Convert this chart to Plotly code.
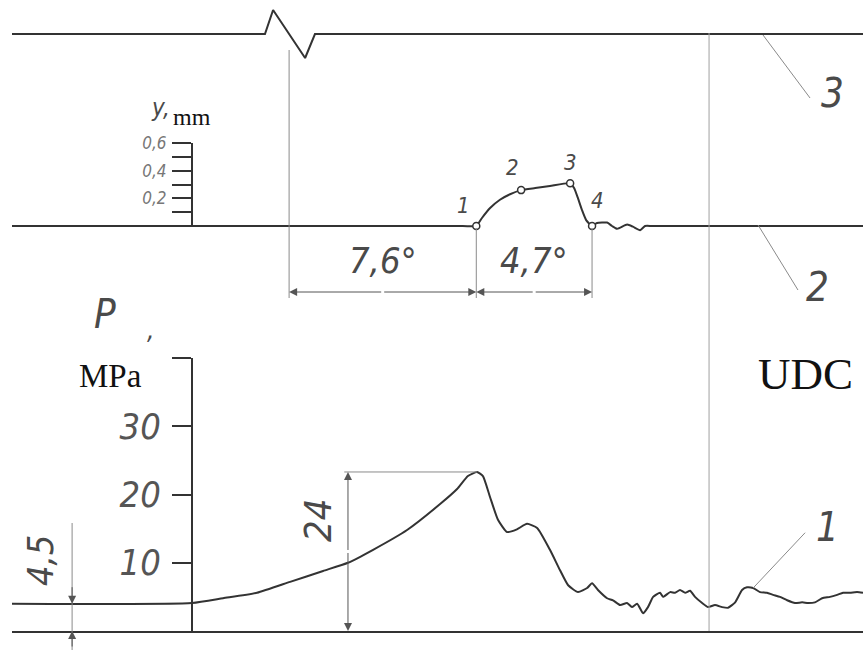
import plotly.graph_objects as go

# ---------------- data ----------------
# crank angle in degrees relative to UDC (0)
pressure_angle = [-28.30, -20.99, -19.73, -18.35, -17.01, -15.67, -14.66, -13.64, -12.26,
                  -10.92, -10.23, -9.79, -9.42, -9.18, -8.89, -8.57, -8.20, -7.80, -7.39,
                  -6.98, -6.46, -6.05, -5.72, -5.32, -4.95, -4.75, -4.51, -4.14, -3.90,
                  -3.61, -3.33, -3.13, -2.92, -2.68, -2.48, -2.27, -1.99, -1.87, -1.58,
                  -1.38, -1.18, -0.97, -0.77, -0.57, -0.28, -0.04, 0.24, 0.53, 0.77,
                  1.06, 1.34, 1.54, 1.79, 2.07, 2.35, 2.60, 2.88, 3.17, 3.49, 3.78,
                  4.02, 4.30, 4.59, 4.91, 5.20, 5.44, 5.72, 6.01, 6.25]
pressure_mpa = [4.0, 4.1, 4.8, 5.6, 7.2, 8.8, 10.0, 11.9, 14.8,
                18.6, 20.8, 22.7, 23.3, 22.7, 19.6, 16.3, 14.5, 14.9, 15.7,
                15.1, 11.9, 8.9, 6.7, 5.7, 6.3, 7.0, 6.0, 4.8, 4.5,
                3.8, 4.1, 3.5, 4.0, 2.6, 3.5, 5.0, 5.6, 5.0, 5.7,
                5.6, 6.0, 5.6, 5.9, 5.0, 4.1, 3.5, 3.8, 3.5, 3.4,
                4.2, 6.0, 6.4, 6.3, 5.7, 5.6, 5.3, 5.0, 4.5, 4.1, 4.2,
                4.1, 4.2, 4.8, 5.0, 5.3, 5.6, 5.6, 5.7, 5.6]

lift_angle = [-28.30, -10.0, -9.45, -9.22, -8.89, -8.49, -8.08, -7.63, -7.06, -6.46, -5.64,
              -5.48, -5.32, -5.16, -4.99, -4.75, -4.55, -4.14, -3.94, -3.73, -3.33,
              -3.09, -2.80, -2.60, -2.30, 6.25]
lift_mm = [0.0, 0.0, 0.0, 0.058, 0.13, 0.19, 0.23, 0.26, 0.275, 0.29, 0.31,
           0.275, 0.20, 0.116, 0.043, 0.0, 0.022, 0.025, 0.0, -0.02, 0.01,
           -0.005, -0.03, 0.0, 0.0, 0.0]
lift_point_angle = [-9.45, -7.63, -5.64, -4.75]
lift_point_mm = [0.0, 0.26, 0.31, 0.0]
lift_point_labels = ["1", "2", "3", "4"]

signal_angle = [-28.30, -18.03, -17.70, -17.05, -16.40, -16.00, 6.25]
signal_value = [0.0, 0.0, 2.4, 0.0, -2.4, 0.0, 0.0]

pressure_ticks = [10, 20, 30, 40]
pressure_tick_labels = ["10", "20", "30", ""]
lift_ticks = [0.1, 0.2, 0.3, 0.4, 0.5, 0.6]
lift_tick_labels = ["", "0,2", "", "0,4", "", "0,6"]

injection_start = -17.05
lift_start = -9.45
lift_end = -4.75
udc_angle = 0.0
delay_label = "7,6°"
duration_label = "4,7°"
peak_label = "24"
residual_label = "4,5"
curve_labels = ["1", "2", "3"]

# ---------------- layout helpers ----------------
W, H = 863, 650
X_RANGE = [-28.30, 6.25]
X_DOM = [12 / W, 1.0]
PX_PER_DEG = (X_DOM[1] - X_DOM[0]) * W / (X_RANGE[1] - X_RANGE[0])
P_DOM = [(H - 631) / H, (H - 358) / H]
P_RANGE = [0, 40]
PX_PER_MPA = (P_DOM[1] - P_DOM[0]) * H / (P_RANGE[1] - P_RANGE[0])
AXIS_POS = 192 / W


def py(p):
    return (H - p) / H


INK = "#333333"
THIN = "#8a8a8a"
TXT = "#4a4a4a"
DRAFT = "Liberation Sans Narrow, DejaVu Sans Condensed, Liberation Sans, sans-serif"
SERIF = "Liberation Serif, DejaVu Serif, serif"

fig = go.Figure()

fig.add_trace(go.Scatter(x=pressure_angle, y=pressure_mpa, mode="lines",
                         line=dict(color=INK, width=2, shape="spline", smoothing=0.5),
                         xaxis="x", yaxis="y", hoverinfo="skip", showlegend=False))
fig.add_trace(go.Scatter(x=lift_angle, y=lift_mm, mode="lines",
                         line=dict(color=INK, width=2, shape="spline", smoothing=0.5),
                         xaxis="x", yaxis="y2", hoverinfo="skip", showlegend=False))
fig.add_trace(go.Scatter(x=lift_point_angle, y=lift_point_mm, mode="markers",
                         marker=dict(symbol="circle", size=7, color="white",
                                     line=dict(width=1.5, color=INK)),
                         xaxis="x", yaxis="y2", hoverinfo="skip", showlegend=False, cliponaxis=False))
fig.add_trace(go.Scatter(x=[None], y=[None], mode="lines", xaxis="x", yaxis="y3",
                         hoverinfo="skip", showlegend=False))
fig.add_trace(go.Scatter(x=signal_angle, y=signal_value, mode="lines",
                         line=dict(color=INK, width=2),
                         xaxis="x", yaxis="y4", hoverinfo="skip", showlegend=False))

shapes = []


def vline(x, y0, y1, color=THIN, width=1, yref="paper"):
    shapes.append(dict(type="line", xref="x", yref=yref, x0=x, x1=x, y0=y0, y1=y1,
                       line=dict(color=color, width=width)))


def seg(x0, y0, x1, y1, yref="paper", color=THIN, width=1):
    shapes.append(dict(type="line", xref="x", yref=yref, x0=x0, x1=x1, y0=y0, y1=y1,
                       line=dict(color=color, width=width)))


# extension lines
vline(injection_start, py(50), py(298))
vline(lift_start, py(228), py(298))
vline(lift_end, py(228), py(298))
vline(udc_angle, py(33), py(631), color="#a0a0a0")

# peak pressure dimension
peak = max(pressure_mpa)
peak_angle = pressure_angle[pressure_mpa.index(peak)]
dim24_x = -14.66
seg(dim24_x - 0.15, peak, peak_angle, peak, yref="y")

# residual pressure dimension line
residual = pressure_mpa[0]
dim45_x = -25.86
vline(dim45_x, py(523), py(650))

# leader lines
seg(2.19, py(35), 4.10, py(98))
seg(1.99, py(225), 3.61, py(290))
seg(1.79, 6.3, 3.90, 14.4, yref="y")

annotations = []


def arrow(x, y, ax, ay, yref="paper"):
    annotations.append(dict(x=x, y=y, xref="x", yref=yref, ax=ax, ay=ay,
                            axref="pixel", ayref="pixel", text="", showarrow=True,
                            arrowhead=2, arrowsize=1.6, arrowwidth=1, arrowcolor="#555",
                            standoff=0, startstandoff=0))


# 7,6 and 4,7 dimensions
dim_y = py(292)
half1 = (lift_start - injection_start) / 2 * PX_PER_DEG
half2 = (lift_end - lift_start) / 2 * PX_PER_DEG
arrow(injection_start, dim_y, half1, 0)
arrow(lift_start, dim_y, -half1, 0)
arrow(lift_start, dim_y, half2, 0)
arrow(lift_end, dim_y, -half2, 0)

# 24 dimension
halfp = peak / 2 * PX_PER_MPA
arrow(dim24_x, 0, 0, -halfp, yref="y")
arrow(dim24_x, peak, 0, halfp, yref="y")

# 4,5 dimension
arrow(dim45_x, residual, 0, -18, yref="y")
arrow(dim45_x, 0, 0, 17, yref="y")


def text(x, y, s, size, xref="x", yref="paper", family=DRAFT, style="italic",
         color=TXT, angle=0, xshift=0, yshift=0, xanchor="center"):
    annotations.append(dict(x=x, y=y, xref=xref, yref=yref, text=s, showarrow=False,
                            font=dict(family=family, size=size, color=color, style=style),
                            textangle=angle, xshift=xshift, yshift=yshift,
                            xanchor=xanchor, yanchor="middle"))


text((injection_start + lift_start) / 2, py(260), delay_label, 36)
text((lift_start + lift_end) / 2, py(260), duration_label, 36)
text(-15.87, 16.3, peak_label, 38, yref="y", angle=-90)
text(-27.16, 10.4, residual_label, 36, yref="y", angle=-90)
text(105 / W, py(314), "P", 40, xref="paper")
text(150 / W, py(330), ",", 26, xref="paper")
text(110 / W, py(376), "MPa", 33, xref="paper", family=SERIF, style="normal", color="#111")
text(805 / W, py(374), "UDC", 45, xref="paper", family=SERIF, style="normal", color="#111")
text(160 / W, py(108), "y,", 24, xref="paper")
text(192 / W, py(117), "mm", 24, xref="paper", family=SERIF, style="normal", color="#111")

# leader labels
text(832 / W, py(93), curve_labels[2], 40, xref="paper")
text(817 / W, py(287), curve_labels[1], 40, xref="paper")
text(827 / W, py(527), curve_labels[0], 40, xref="paper")

# lift point labels
offsets = [(-13, 21), (-9, 23), (0, 21), (5, 26)]
for a, m, lab, (dx, dy) in zip(lift_point_angle, lift_point_mm, lift_point_labels, offsets):
    annotations.append(dict(x=a, y=m, xref="x", yref="y2", text=lab, showarrow=False,
                            font=dict(family=DRAFT, size=22, color=TXT, style="italic"),
                            xshift=dx, yshift=dy))

fig.update_layout(
    width=W, height=H, autosize=False,
    margin=dict(l=0, r=0, t=0, b=0, pad=0, autoexpand=False),
    paper_bgcolor="white", plot_bgcolor="rgba(0,0,0,0)",
    showlegend=False,
    xaxis=dict(domain=X_DOM, range=X_RANGE, anchor="y", showline=True, linecolor=INK,
               linewidth=2, showgrid=False, zeroline=False, ticks="", showticklabels=False),
    yaxis=dict(domain=P_DOM, range=P_RANGE, anchor="free", position=AXIS_POS, side="left",
               showline=True, linecolor=INK, linewidth=2, ticks="outside", ticklen=19,
               tickwidth=2, tickcolor=INK, tickvals=pressure_ticks, ticktext=pressure_tick_labels,
               tickfont=dict(family=DRAFT, size=36, color="#555", style="italic"),
               ticklabelstandoff=4, showgrid=False, zeroline=False, automargin=False),
    yaxis2=dict(domain=[py(290), py(60)], range=[(226 - 290) / 138, (226 - 60) / 138],
                anchor="x", visible=False),
    yaxis3=dict(domain=[py(226), py(143)], range=[0, 0.6], anchor="free", position=AXIS_POS,
                side="left", showline=True, linecolor=INK, linewidth=2, ticks="outside",
                ticklen=19, tickwidth=2, tickcolor=INK, tickvals=lift_ticks,
                ticktext=lift_tick_labels,
                tickfont=dict(family=DRAFT, size=17, color="#777", style="italic"),
                ticklabelstandoff=2, showgrid=False, zeroline=False, automargin=False),
    yaxis4=dict(domain=[py(100), 1.0], range=[(34 - 100) / 10, 34 / 10], anchor="x",
                visible=False),
    shapes=shapes,
    annotations=annotations,
)

post = ("var gd=document.getElementById('{plot_id}');"
        "gd.style.position='fixed';gd.style.top='0px';gd.style.left='0px';"
        "document.body.style.margin='0px';"
        "document.documentElement.style.overflow='hidden';"
        "document.body.style.overflow='hidden';")

fig.write_html("out.html", config={"displayModeBar": False, "staticPlot": True},
               post_script=post)
